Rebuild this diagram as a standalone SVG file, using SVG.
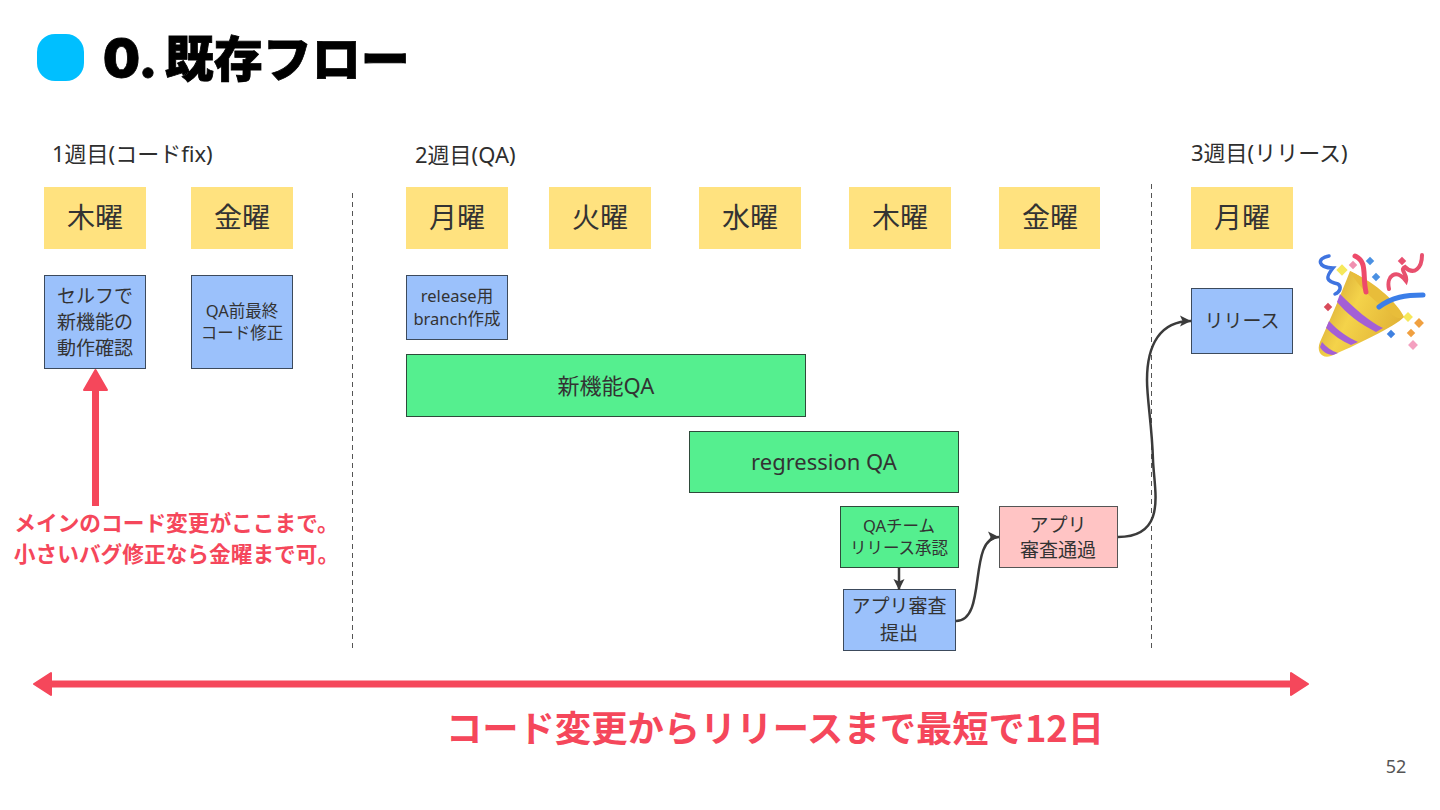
<svg xmlns="http://www.w3.org/2000/svg" width="1440" height="810" viewBox="0 0 1440 810">
<style>
text{font-family:"Noto Sans","Noto Sans CJK JP",sans-serif;fill:#333;text-anchor:middle}
.h{font-size:22px;text-anchor:start;fill:#2e2e2e}
.day{fill:#ffe27f}
.dt{font-size:28px;fill:#333}
.b{fill:#9bc1fb;stroke:#3c4a5c;stroke-width:1}
.g{fill:#55ef8f;stroke:#2e4a3a;stroke-width:1}
.p{fill:#ffc4c4;stroke:#555;stroke-width:1}
.n{font-size:19px}
.s{font-size:16.500px}
.m{font-size:22px}
.r{fill:#f5475b;font-weight:700;font-size:21.700px;font-family:"Noto Sans CJK JP",sans-serif}
.dash{stroke:#555;stroke-width:1;stroke-dasharray:5 4;fill:none}
.c{fill:none;stroke:#3b3b3b;stroke-width:2.500}
.sq{stroke:none}
</style>
<defs>
<marker id="ah" markerUnits="userSpaceOnUse" markerWidth="12" markerHeight="12" refX="11" refY="6" orient="auto"><path d="M0 0.500L11 6L0 11.500L2.500 6Z" fill="#3b3b3b"/></marker>
<linearGradient id="cone" x1="0" y1="0" x2="1" y2="0.500"><stop offset="0" stop-color="#c9962c"/><stop offset="0.500" stop-color="#f4d34a"/><stop offset="1" stop-color="#e2b436"/></linearGradient>
</defs>
<rect width="1440" height="810" fill="#fff"/>
<g id="title">
<rect x="37" y="34" width="47" height="47" rx="18" fill="#00bfff"/>
<text x="103" y="77" style="font-size:49px;font-weight:900;fill:#000;stroke:#000;stroke-width:0.800px;text-anchor:start;font-family:'Noto Sans CJK JP',sans-serif"><tspan style="font-family:Inter,sans-serif" font-size="52px">0.</tspan><tspan dx="7">既存フロー</tspan></text>
</g>
<g id="headers">
<text class="h" x="52" y="162">1週目(コードfix)</text>
<text class="h" x="415" y="163">2週目(QA)</text>
<text class="h" x="1191" y="161">3週目(リリース)</text>
</g>
<g id="days">
<g id="d1"><rect class="day" x="44" y="187" width="102" height="62"/><text class="dt" x="95" y="228">木曜</text></g>
<g id="d2"><rect class="day" x="191" y="187" width="102" height="62"/><text class="dt" x="242" y="228">金曜</text></g>
<g id="d3"><rect class="day" x="406" y="187" width="102" height="62"/><text class="dt" x="457" y="228">月曜</text></g>
<g id="d4"><rect class="day" x="549" y="187" width="102" height="62"/><text class="dt" x="600" y="228">火曜</text></g>
<g id="d5"><rect class="day" x="699" y="187" width="102" height="62"/><text class="dt" x="750" y="228">水曜</text></g>
<g id="d6"><rect class="day" x="849" y="187" width="102" height="62"/><text class="dt" x="900" y="228">木曜</text></g>
<g id="d7"><rect class="day" x="999" y="187" width="101" height="62"/><text class="dt" x="1050" y="228">金曜</text></g>
<g id="d8"><rect class="day" x="1191" y="187" width="102" height="62"/><text class="dt" x="1242" y="228">月曜</text></g>
</g>
<g id="n-self"><rect class="b" x="44.500" y="275.500" width="101" height="93"/><text class="n" x="95" y="303">セルフで</text><text class="n" x="95" y="329">新機能の</text><text class="n" x="95" y="355">動作確認</text></g>
<g id="n-fix"><rect class="b" x="191.500" y="275.500" width="101" height="93"/><text class="s" x="242" y="317">QA前最終</text><text class="s" x="242" y="339">コード修正</text></g>
<g id="n-branch"><rect class="b" x="406.500" y="275.500" width="101" height="64"/><text class="s" x="457" y="302">release用</text><text class="s" x="457" y="325">branch作成</text></g>
<g id="n-qa"><rect class="g" x="406.500" y="354.500" width="399" height="62"/><text class="m" x="606" y="394">新機能QA</text></g>
<g id="n-reg"><rect class="g" x="689.500" y="431.500" width="269" height="61"/><text class="m" x="824" y="470">regression QA</text></g>
<g id="n-approve"><rect class="g" x="840.500" y="506.500" width="118" height="61"/><text class="s" x="899" y="532">QAチーム</text><text class="s" x="899" y="554">リリース承認</text></g>
<g id="n-submit"><rect class="b" x="843.500" y="589.500" width="112" height="61"/><text class="n" x="899" y="613">アプリ審査</text><text class="n" x="899" y="640">提出</text></g>
<g id="n-pass"><rect class="p" x="999.500" y="506.500" width="118" height="61"/><text class="n" x="1058" y="532">アプリ</text><text class="n" x="1058" y="557">審査通過</text></g>
<g id="n-release"><rect class="b" x="1191.500" y="288.500" width="101" height="65"/><text class="n" x="1242" y="328">リリース</text></g>
<g id="connectors">
<path class="dash" d="M352.500 193V651"/>
<path class="dash" d="M1151.500 184V651"/>
<path class="c" d="M899 568V590" marker-end="url(#ah)"/>
<path class="c" d="M956 621C988 621 967 537 999 537" marker-end="url(#ah)"/>
<path class="c" d="M1118 537C1168 537 1154 490 1153 460C1152 425 1147 400 1147 380C1147 345 1160 321 1191 321" marker-end="url(#ah)"/>
<path d="M95.500 506V390" stroke="#f5475b" stroke-width="7" fill="none"/>
<path d="M95.500 370L107 390H84Z" fill="#f5475b" stroke="#f5475b" stroke-width="2" stroke-linejoin="round"/>
<path d="M50 684H1292" stroke="#f5475b" stroke-width="7" fill="none"/>
<path d="M34 684L51 673V695Z M1308 684L1291 673V695Z" fill="#f5475b" stroke="#f5475b" stroke-width="2" stroke-linejoin="round"/>
</g>
<g id="notes">
<text class="r" x="173.500" y="531" dx="3">メインのコード変更がここまで。</text>
<text class="r" x="173.500" y="562" dx="3">小さいバグ修正なら金曜まで可。</text>
<text class="r" x="775" y="742" style="font-size:36.300px">コード変更からリリースまで最短で12日</text>
</g>
<g id="popper">
<path d="M1350 271C1372 282 1396 303 1404 317C1396 326 1352 347 1331 356C1322 359 1316 352 1320 342C1330 320 1342 292 1350 271Z" fill="url(#cone)"/>
<path d="M1340 294C1355 309 1370 322 1383 328L1376 332C1360 324 1346 313 1337 302Z" fill="#a45fd6"/>
<path d="M1329 321C1338 331 1349 338 1358 342L1351 345C1342 341 1333 335 1326 328Z" fill="#a45fd6"/>
<path d="M1322 342C1326 347 1332 351 1338 353L1333 355C1327 355 1322 351 1320 347Z" fill="#a45fd6"/>
<path d="M1350 271C1378 284 1398 304 1404 317C1399 320 1394 317 1388 311C1372 299 1356 284 1350 271Z" fill="#e8bd3a"/>
<path d="M1366 292C1362 275 1368 262 1355 256" fill="none" stroke="#ee4a6a" stroke-width="5" stroke-linecap="round"/>
<path d="M1379 307C1392 297 1406 295 1423 295" fill="none" stroke="#3b7ee8" stroke-width="5" stroke-linecap="round"/>
<path d="M1329 256C1316 258 1318 268 1333 268C1325 278 1326 281 1338 284C1342 287 1340 292 1335 294" fill="none" stroke="#3f74e0" stroke-width="3.500" stroke-linecap="round"/>
<path d="M1389 289C1386 276 1396 268 1406 281C1408 274 1399 270 1405 267C1414 276 1422 268 1422 255" fill="none" stroke="#e8506e" stroke-width="4" stroke-linecap="round"/>
<g>
<rect class="sq" x="-4" y="-4" width="8" height="8" transform="translate(1342 270) rotate(45)" fill="#f6e85a"/>
<rect class="sq" x="-3" y="-3" width="6" height="6" transform="translate(1353 265) rotate(45)" fill="#f090b0"/>
<rect class="sq" x="-3" y="-3" width="6" height="6" transform="translate(1370 261) rotate(45)" fill="#4a90e2"/>
<rect class="sq" x="-3" y="-3" width="6" height="6" transform="translate(1376 277) rotate(45)" fill="#4a90e2"/>
<rect class="sq" x="-3" y="-3" width="6" height="6" transform="translate(1402 261) rotate(45)" fill="#e85070"/>
<rect class="sq" x="-3" y="-3" width="6" height="6" transform="translate(1328 307) rotate(45)" fill="#d84a5a"/>
<rect class="sq" x="-3.500" y="-3.500" width="7" height="7" transform="translate(1408 317) rotate(45)" fill="#f6e85a"/>
<rect class="sq" x="-3.500" y="-3.500" width="7" height="7" transform="translate(1419 323) rotate(45)" fill="#f0a040"/>
<rect class="sq" x="-3" y="-3" width="6" height="6" transform="translate(1411 333) rotate(45)" fill="#f0a040"/>
<rect class="sq" x="-3" y="-3" width="6" height="6" transform="translate(1391 334) rotate(45)" fill="#3f80e0"/>
<rect class="sq" x="-3.500" y="-3.500" width="7" height="7" transform="translate(1413 345) rotate(45)" fill="#f4a0c0"/>
</g>
</g>
<g id="page"><text x="1396" y="773" style="font-size:18px;fill:#555;font-family:'Noto Sans',sans-serif">52</text></g>
</svg>
